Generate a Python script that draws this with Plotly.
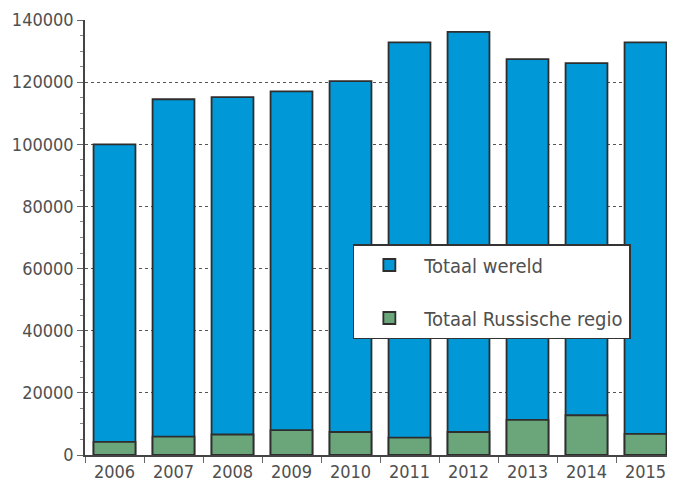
import plotly.graph_objects as go

years = ["2006", "2007", "2008", "2009", "2010", "2011", "2012", "2013", "2014", "2015"]
totaal_wereld = [100000, 114500, 115200, 117000, 120300, 132800, 136200, 127400, 126100, 132800]
totaal_russische_regio = [4200, 5900, 6600, 8000, 7400, 5600, 7400, 11300, 12800, 6800]
y_ticks = [0, 20000, 40000, 60000, 80000, 100000, 120000, 140000]
y_tick_labels = ["0", "20000", "40000", "60000", "80000", "100000", "120000", "140000"]

FONT = "DejaVu Sans Condensed"
TXT = "#505050"
EDGE = "#2e2e2e"

fig = go.Figure()
fig.add_trace(go.Bar(
    x=years, y=totaal_wereld, name="Totaal wereld",
    marker=dict(color="#0098D6", line=dict(color=EDGE, width=1.8)),
    legendgroup="a",
))
fig.add_trace(go.Bar(
    x=years, y=totaal_russische_regio, name="Totaal Russische regio",
    marker=dict(color="#6BA67B", line=dict(color=EDGE, width=1.8)),
    legendgroup="b",
))

fig.update_layout(
    width=675, height=490,
    margin=dict(l=77, r=8, t=12, b=43, autoexpand=False),
    barmode="overlay",
    bargap=0.29,
    plot_bgcolor="white", paper_bgcolor="white",
    font=dict(family=FONT, size=18, color=TXT),
    showlegend=True,
    legend=dict(
        x=0.454, y=0.485, xanchor="left", yanchor="top",
        bgcolor="white", bordercolor="#333333", borderwidth=1.5,
        font=dict(family=FONT, size=20, color=TXT),
        traceorder="grouped", tracegroupgap=24,
        itemwidth=60,
        entrywidth=250,
    ),
    xaxis=dict(
        type="category", automargin=False,
        showline=True, linecolor="#444444", linewidth=1.5,
        ticks="outside", tickson="boundaries", ticklen=6, tickcolor="#666666",
        showgrid=False,
        tickfont=dict(family=FONT, size=18, color=TXT),
    ),
    yaxis=dict(
        range=[0, 140000], automargin=False,
        tickvals=y_ticks,
        ticktext=y_tick_labels,
        showline=True, linecolor="#444444", linewidth=1.5,
        ticks="outside", ticklen=6, tickcolor="#666666",
        minor=dict(dtick=5000, ticks="outside", ticklen=3, tickcolor="#888888", showgrid=False),
        showgrid=True, gridcolor="#555555", griddash="dot", gridwidth=1,
        zeroline=False,
        tickfont=dict(family=FONT, size=18, color=TXT),
    ),
)

fig.write_html("out.html")
